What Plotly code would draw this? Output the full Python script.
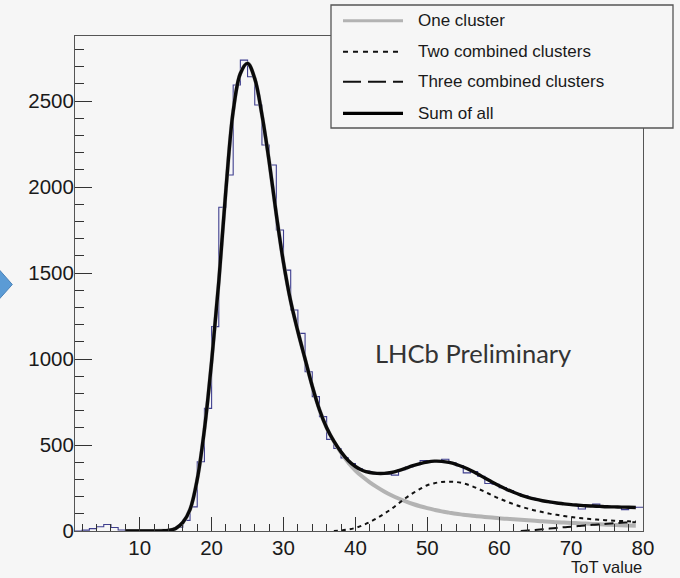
import plotly.graph_objects as go

# ---------------- data ----------------
bin_edges = list(range(1, 81))  # histogram bin edges 1..80 (bin width 1)
hist_counts = [
    0, 5, 14, 25, 38, 20, 6, 2, 0, 0,            # bins 1..10
    1, 2, 5, 9, 22, 62, 140, 403, 713, 1188,     # bins 11..20
    1882, 2070, 2593, 2738, 2641, 2477, 2244, 2128, 1750, 1517,  # 21..30
    1285, 1149, 926, 781, 665, 533, 480, 425, 392, 362,          # 31..40
    348, 336, 338, 332, 325, 356, 372, 386, 410, 404,            # 41..50
    405, 417, 396, 380, 338, 345, 318, 276, 272, 252,            # 51..60
    235, 218, 204, 190, 181, 172, 165, 160, 155, 150,            # 61..70
    128, 145, 156, 146, 141, 138, 124, 137, 138                  # 71..79
]

fit_x = list(range(8, 80))  # 8..79
sum_of_all = [
    0, 0, 0, 0, 0, 1, 3, 15, 50, 125,            # 8..17
    300, 590, 985, 1450, 1990, 2440, 2660, 2719, 2630, 2420,  # 18..27
    2150, 1840, 1560, 1335, 1160, 1000, 842, 705, 600, 522,   # 28..37
    460, 410, 375, 352, 340, 335, 335, 340, 351, 365,         # 38..47
    380, 392, 401, 406, 405, 399, 388, 372, 353, 331,         # 48..57
    308, 285, 263, 243, 225, 209, 196, 185, 176, 169,         # 58..67
    163, 158, 153, 150, 147, 145, 143, 141, 140, 139,         # 68..77
    138, 137                                                  # 78..79
]
one_cluster = [
    0, 0, 0, 0, 0, 1, 3, 15, 50, 125,
    300, 590, 985, 1450, 1990, 2440, 2660, 2719, 2630, 2420,
    2150, 1840, 1560, 1335, 1160, 1000, 842, 705, 600, 522,
    455, 398, 352, 315, 283, 255, 230, 208, 189, 172,
    157, 144, 133, 123, 114, 107, 100, 95, 90, 86,
    82, 78, 74, 71, 68, 65, 62, 59, 56, 54,
    51, 49, 47, 45, 43, 41, 39, 37, 35, 33,
    32, 31
]
two_x = list(range(37, 80))
two_clusters = [
    0, 3, 9, 18, 33, 52, 75, 100, 128, 160,      # 37..46
    192, 220, 245, 266, 278, 285, 287, 285, 277, 264,  # 47..56
    247, 228, 208, 189, 172, 156, 142, 130, 119, 110,  # 57..66
    101, 94, 87, 81, 76, 72, 68, 65, 62, 60,           # 67..76
    58, 56, 55                                         # 77..79
]
three_x = list(range(63, 80))
three_clusters = [0, 3, 6, 10, 14, 18, 22, 25, 29, 32, 36, 39, 42, 45, 48, 50, 51]

legend_labels = ["One cluster", "Two combined clusters",
                 "Three combined clusters", "Sum of all"]

# ---------------- geometry helpers ----------------
W, H = 680, 578
ML, MR, MT, MB = 75, 37, 36, 47
PW, PH = W - ML - MR, H - MT - MB


def px(x):
    return (x - ML) / PW


def py(y):
    return (H - MB - y) / PH


BG = "#f6f6f6"
FONT = "Liberation Sans, Arial, Helvetica, sans-serif"

fig = go.Figure()

fig.add_trace(go.Scatter(
    x=bin_edges, y=hist_counts + [hist_counts[-1]],
    mode="lines", line=dict(shape="hv", color="#3f3f8f", width=1.1),
    showlegend=False, hoverinfo="skip"))

fig.add_trace(go.Scatter(
    x=fit_x, y=one_cluster, mode="lines",
    line=dict(color="#b3b3b3", width=4, shape="spline", smoothing=1),
    name=legend_labels[0], showlegend=False))
fig.add_trace(go.Scatter(
    x=two_x, y=two_clusters, mode="lines",
    line=dict(color="#111111", width=2, dash="4px,4px", shape="spline", smoothing=1),
    name=legend_labels[1], showlegend=False))
fig.add_trace(go.Scatter(
    x=three_x, y=three_clusters, mode="lines",
    line=dict(color="#111111", width=2, dash="9px,5px", shape="spline", smoothing=1),
    name=legend_labels[2], showlegend=False))
fig.add_trace(go.Scatter(
    x=fit_x, y=sum_of_all, mode="lines",
    line=dict(color="#0a0a0a", width=3.4, shape="spline", smoothing=1),
    name=legend_labels[3], showlegend=False))

shapes = []
annotations = []

# manual legend box (ROOT style)
shapes.append(dict(type="rect", xref="paper", yref="paper",
                   x0=px(331), x1=px(673), y0=py(128), y1=py(5),
                   fillcolor=BG, line=dict(color="#555555", width=1.3),
                   layer="above"))
legend_styles = [
    dict(color="#b3b3b3", width=3, dash="solid"),
    dict(color="#111111", width=2, dash="5px,5px"),
    dict(color="#111111", width=2, dash="18px,7px"),
    dict(color="#000000", width=3.2, dash="solid"),
]
legend_rows = [20.7, 51.7, 81.7, 113.3]
for lab, st, yy in zip(legend_labels, legend_styles, legend_rows):
    shapes.append(dict(type="line", xref="paper", yref="paper",
                       x0=px(343), x1=px(403), y0=py(yy), y1=py(yy),
                       line=st, layer="above"))
    annotations.append(dict(xref="paper", yref="paper", x=px(416), y=py(yy),
                            text=lab, showarrow=False, xanchor="left",
                            yanchor="middle",
                            font=dict(family=FONT, size=17, color="#1a1a1a")))

# blue arrow decoration at left edge
shapes.append(dict(type="path", xref="paper", yref="paper",
                   path=f"M {px(-2)},{py(268.3)} L {px(12.3)},{py(284.5)} "
                        f"L {px(-2)},{py(300.5)} Z",
                   fillcolor="#5b9bd5", line=dict(color="#4a82b8", width=1),
                   layer="above"))

annotations.append(dict(xref="paper", yref="paper", x=px(644), y=py(567),
                        text="ToT value", showarrow=False, xanchor="right",
                        yanchor="middle",
                        font=dict(family=FONT, size=16.5, color="#1a1a1a")))
annotations.append(dict(xref="paper", yref="paper", x=px(473), y=py(353),
                        text="LHCb Preliminary", showarrow=False,
                        xanchor="center", yanchor="middle",
                        font=dict(family="Lato, Open Sans, sans-serif",
                                  size=25.5, color="#333333")))

fig.update_layout(
    width=W, height=H,
    margin=dict(l=ML, r=MR, t=MT, b=MB, pad=0),
    paper_bgcolor=BG, plot_bgcolor=BG,
    shapes=shapes, annotations=annotations,
    showlegend=False,
)
fig.update_xaxes(
    range=[1, 80], tick0=0, dtick=10, ticks="inside", ticklen=14,
    tickcolor="#333333", tickwidth=1, ticklabelstandoff=-2,
    minor=dict(dtick=2, tick0=0, ticks="inside", ticklen=7,
               tickcolor="#333333", showgrid=False),
    showgrid=False, zeroline=False, showline=True, linecolor="#555555",
    linewidth=1, mirror=True,
    tickfont=dict(family=FONT, size=20.5, color="#1a1a1a"),
)
fig.update_yaxes(
    range=[0, 2878], tick0=0, dtick=500, ticks="inside", ticklen=17,
    tickcolor="#333333", tickwidth=1, tickformat="d",
    ticklabelstandoff=-4,
    minor=dict(dtick=100, tick0=0, ticks="inside", ticklen=9,
               tickcolor="#333333", showgrid=False),
    showgrid=False, zeroline=False, showline=True, linecolor="#555555",
    linewidth=1, mirror=True,
    tickfont=dict(family=FONT, size=20.5, color="#1a1a1a"),
)

fig.write_html("out.html", config={"displayModeBar": False})

# remove the browser's default page margin so the figure fills the window
with open("out.html", "r", encoding="utf-8") as f:
    html = f.read()
html = html.replace("<head>", "<head><style>html,body{margin:0;padding:0;"
                    "background:%s;overflow:hidden;}</style>" % BG, 1)
with open("out.html", "w", encoding="utf-8") as f:
    f.write(html)
